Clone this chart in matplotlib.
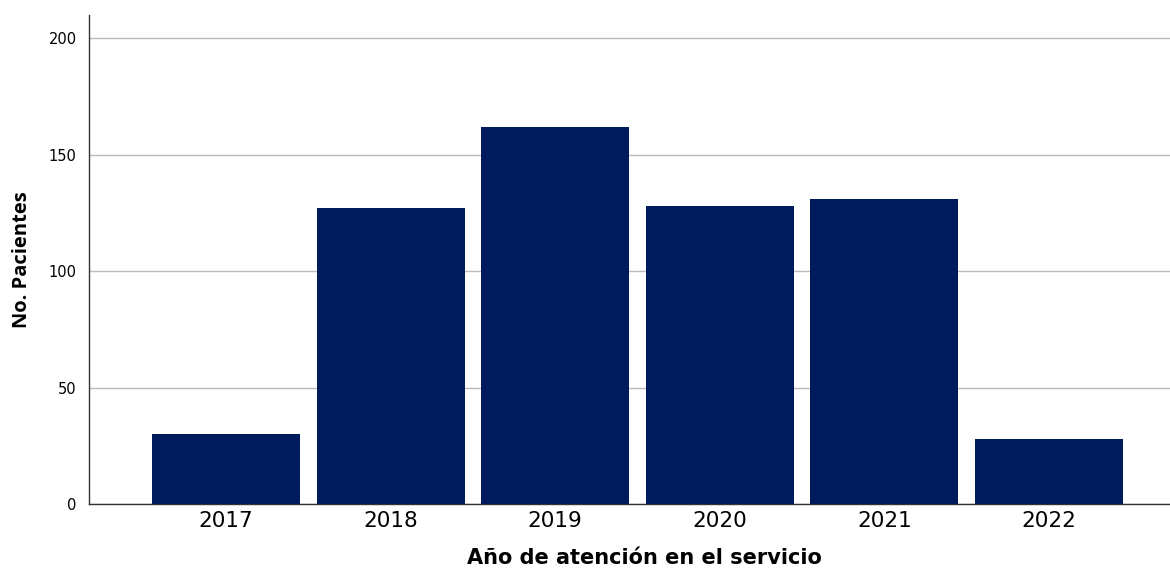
import matplotlib.pyplot as plt

years = ["2017", "2018", "2019", "2020", "2021", "2022"]
patients = [30, 127, 162, 128, 131, 28]

bar_color = "#001A5E"

fig = plt.figure(figsize=(11.7, 5.69), dpi=100)
ax = fig.add_axes([0.0761, 0.1142, 0.9239, 0.8594])

x = list(range(len(years)))
ax.bar(x, patients, width=0.9, color=bar_color, zorder=3)

ax.set_xlim(-0.832, 5.735)
ax.set_ylim(0, 210)
ax.set_yticks([0, 50, 100, 150, 200])
ax.set_xticks(x)
ax.set_xticklabels(years, fontsize=15.5)
ax.tick_params(axis="y", labelsize=10.5, length=0, pad=9)
ax.tick_params(axis="x", length=0, pad=5)

ax.yaxis.grid(True, color="#BBBBBB", linewidth=1, zorder=0)
ax.set_axisbelow(True)

for side in ["top", "right"]:
    ax.spines[side].set_visible(False)
for side in ["left", "bottom"]:
    ax.spines[side].set_color("#333333")
    ax.spines[side].set_linewidth(1)

ax.set_xlabel("Año de atención en el servicio", fontsize=15, fontweight="bold")
ax.xaxis.set_label_coords(0.514, -0.090)
ax.set_ylabel("No. Pacientes", fontsize=14.5, fontweight="bold",
              family="Open Sans")
ax.yaxis.set_label_coords(-0.053, 0.5)

fig.savefig("out.png", dpi=100)
